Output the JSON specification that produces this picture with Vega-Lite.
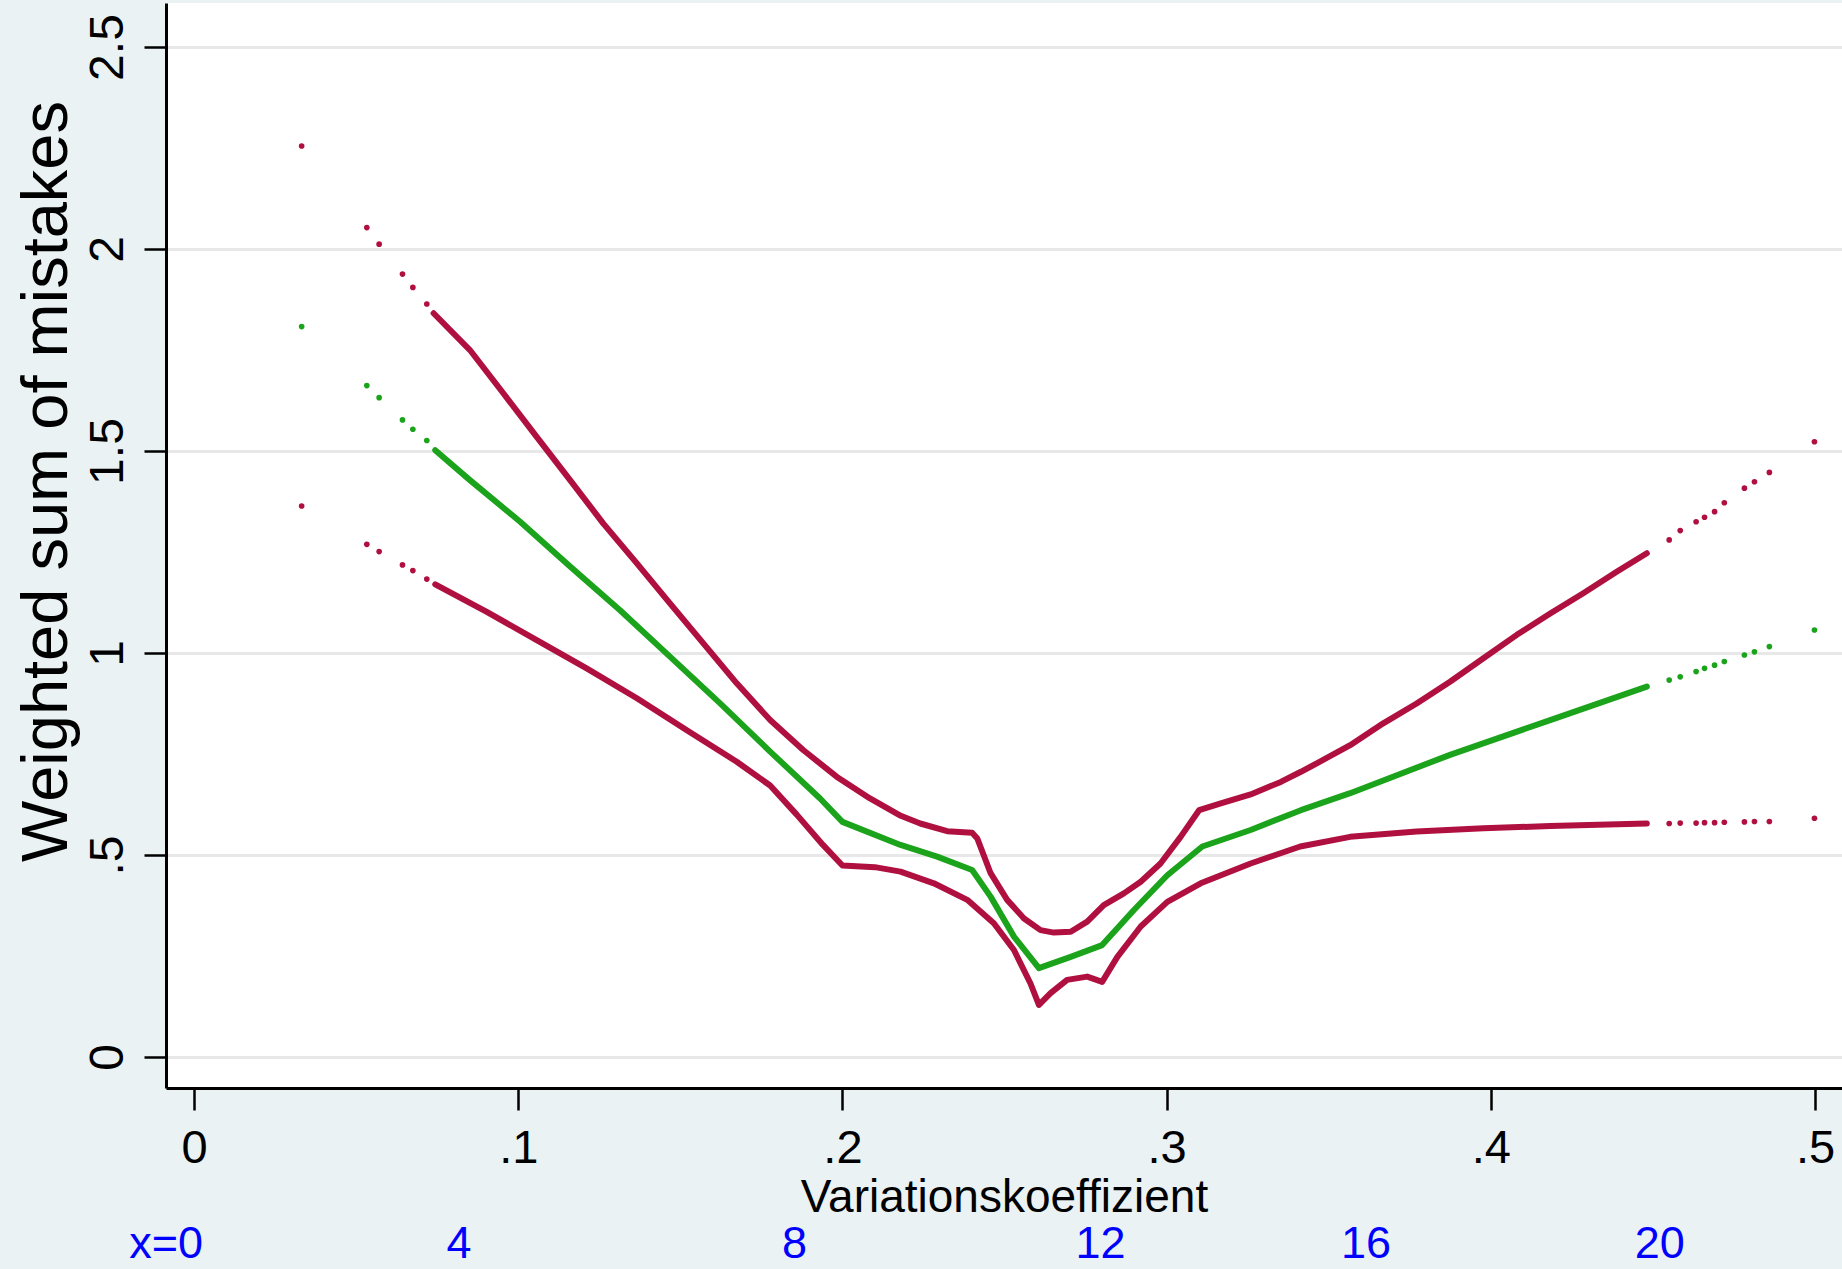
{
  "$schema": "https://vega.github.io/schema/vega-lite/v6.json",
  "width": 1676,
  "height": 1085,
  "autosize": {"type": "none"},
  "padding": {"left": 166, "top": 3, "right": 0, "bottom": 181},
  "background": "#EAF2F3",
  "config": {"view": {"fill": "white", "stroke": null}, "font": "Liberation Sans"},
  "datasets": {
    "pts": [
      {"s": "upper", "d": "dot", "x": 0.0332, "y": 2.255},
      {"s": "upper", "d": "dot", "x": 0.0533, "y": 2.053},
      {"s": "upper", "d": "dot", "x": 0.0571, "y": 2.012},
      {"s": "upper", "d": "dot", "x": 0.0643, "y": 1.938},
      {"s": "upper", "d": "dot", "x": 0.0675, "y": 1.905},
      {"s": "upper", "d": "dot", "x": 0.0718, "y": 1.864},
      {"s": "mean", "d": "dot", "x": 0.0332, "y": 1.808},
      {"s": "mean", "d": "dot", "x": 0.0533, "y": 1.662},
      {"s": "mean", "d": "dot", "x": 0.0571, "y": 1.632},
      {"s": "mean", "d": "dot", "x": 0.0643, "y": 1.577},
      {"s": "mean", "d": "dot", "x": 0.0675, "y": 1.554},
      {"s": "mean", "d": "dot", "x": 0.0718, "y": 1.526},
      {"s": "lower", "d": "dot", "x": 0.0332, "y": 1.364},
      {"s": "lower", "d": "dot", "x": 0.0533, "y": 1.269},
      {"s": "lower", "d": "dot", "x": 0.0571, "y": 1.251},
      {"s": "lower", "d": "dot", "x": 0.0643, "y": 1.218},
      {"s": "lower", "d": "dot", "x": 0.0675, "y": 1.204},
      {"s": "lower", "d": "dot", "x": 0.0718, "y": 1.183},
      {"s": "upper", "d": "dot", "x": 0.455, "y": 1.280},
      {"s": "upper", "d": "dot", "x": 0.4584, "y": 1.303},
      {"s": "upper", "d": "dot", "x": 0.4633, "y": 1.325},
      {"s": "upper", "d": "dot", "x": 0.4659, "y": 1.336},
      {"s": "upper", "d": "dot", "x": 0.469, "y": 1.350},
      {"s": "upper", "d": "dot", "x": 0.472, "y": 1.372},
      {"s": "upper", "d": "dot", "x": 0.4782, "y": 1.408},
      {"s": "upper", "d": "dot", "x": 0.4813, "y": 1.424},
      {"s": "upper", "d": "dot", "x": 0.4859, "y": 1.447},
      {"s": "upper", "d": "dot", "x": 0.4998, "y": 1.523},
      {"s": "mean", "d": "dot", "x": 0.455, "y": 0.933},
      {"s": "mean", "d": "dot", "x": 0.4584, "y": 0.941},
      {"s": "mean", "d": "dot", "x": 0.4633, "y": 0.954},
      {"s": "mean", "d": "dot", "x": 0.4659, "y": 0.962},
      {"s": "mean", "d": "dot", "x": 0.469, "y": 0.970},
      {"s": "mean", "d": "dot", "x": 0.472, "y": 0.979},
      {"s": "mean", "d": "dot", "x": 0.4782, "y": 0.995},
      {"s": "mean", "d": "dot", "x": 0.4813, "y": 1.003},
      {"s": "mean", "d": "dot", "x": 0.4859, "y": 1.016},
      {"s": "mean", "d": "dot", "x": 0.4998, "y": 1.057},
      {"s": "lower", "d": "dot", "x": 0.455, "y": 0.578},
      {"s": "lower", "d": "dot", "x": 0.4584, "y": 0.579},
      {"s": "lower", "d": "dot", "x": 0.4633, "y": 0.579},
      {"s": "lower", "d": "dot", "x": 0.4659, "y": 0.580},
      {"s": "lower", "d": "dot", "x": 0.469, "y": 0.580},
      {"s": "lower", "d": "dot", "x": 0.472, "y": 0.581},
      {"s": "lower", "d": "dot", "x": 0.4782, "y": 0.582},
      {"s": "lower", "d": "dot", "x": 0.4813, "y": 0.583},
      {"s": "lower", "d": "dot", "x": 0.4859, "y": 0.583},
      {"s": "lower", "d": "dot", "x": 0.4998, "y": 0.591},

      {"s": "upper", "d": "line", "x": 0.0739, "y": 1.841},
      {"s": "upper", "d": "line", "x": 0.0851, "y": 1.750},
      {"s": "upper", "d": "line", "x": 0.0954, "y": 1.643},
      {"s": "upper", "d": "line", "x": 0.1057, "y": 1.535},
      {"s": "upper", "d": "line", "x": 0.1160, "y": 1.428},
      {"s": "upper", "d": "line", "x": 0.1262, "y": 1.321},
      {"s": "upper", "d": "line", "x": 0.1366, "y": 1.222},
      {"s": "upper", "d": "line", "x": 0.1468, "y": 1.123},
      {"s": "upper", "d": "line", "x": 0.1571, "y": 1.024},
      {"s": "upper", "d": "line", "x": 0.1674, "y": 0.925},
      {"s": "upper", "d": "line", "x": 0.1777, "y": 0.834},
      {"s": "upper", "d": "line", "x": 0.1879, "y": 0.760},
      {"s": "upper", "d": "line", "x": 0.1982, "y": 0.694},
      {"s": "upper", "d": "line", "x": 0.2085, "y": 0.640},
      {"s": "upper", "d": "line", "x": 0.2180, "y": 0.597},
      {"s": "upper", "d": "line", "x": 0.2240, "y": 0.578},
      {"s": "upper", "d": "line", "x": 0.2323, "y": 0.559},
      {"s": "upper", "d": "line", "x": 0.2400, "y": 0.555},
      {"s": "upper", "d": "line", "x": 0.2416, "y": 0.541},
      {"s": "upper", "d": "line", "x": 0.2457, "y": 0.455},
      {"s": "upper", "d": "line", "x": 0.2508, "y": 0.389},
      {"s": "upper", "d": "line", "x": 0.2560, "y": 0.343},
      {"s": "upper", "d": "line", "x": 0.2611, "y": 0.314},
      {"s": "upper", "d": "line", "x": 0.2652, "y": 0.308},
      {"s": "upper", "d": "line", "x": 0.2704, "y": 0.310},
      {"s": "upper", "d": "line", "x": 0.2755, "y": 0.335},
      {"s": "upper", "d": "line", "x": 0.2806, "y": 0.376},
      {"s": "upper", "d": "line", "x": 0.2868, "y": 0.405},
      {"s": "upper", "d": "line", "x": 0.2920, "y": 0.434},
      {"s": "upper", "d": "line", "x": 0.2981, "y": 0.479},
      {"s": "upper", "d": "line", "x": 0.3043, "y": 0.545},
      {"s": "upper", "d": "line", "x": 0.3100, "y": 0.611},
      {"s": "upper", "d": "line", "x": 0.3167, "y": 0.628},
      {"s": "upper", "d": "line", "x": 0.3259, "y": 0.650},
      {"s": "upper", "d": "line", "x": 0.3352, "y": 0.681},
      {"s": "upper", "d": "line", "x": 0.3414, "y": 0.706},
      {"s": "upper", "d": "line", "x": 0.3463, "y": 0.727},
      {"s": "upper", "d": "line", "x": 0.3566, "y": 0.772},
      {"s": "upper", "d": "line", "x": 0.3668, "y": 0.826},
      {"s": "upper", "d": "line", "x": 0.3771, "y": 0.875},
      {"s": "upper", "d": "line", "x": 0.3874, "y": 0.929},
      {"s": "upper", "d": "line", "x": 0.3977, "y": 0.987},
      {"s": "upper", "d": "line", "x": 0.4080, "y": 1.045},
      {"s": "upper", "d": "line", "x": 0.4183, "y": 1.098},
      {"s": "upper", "d": "line", "x": 0.4285, "y": 1.148},
      {"s": "upper", "d": "line", "x": 0.4388, "y": 1.201},
      {"s": "upper", "d": "line", "x": 0.4481, "y": 1.247},

      {"s": "mean", "d": "line", "x": 0.0744, "y": 1.502},
      {"s": "mean", "d": "line", "x": 0.0851, "y": 1.428},
      {"s": "mean", "d": "line", "x": 0.1006, "y": 1.325},
      {"s": "mean", "d": "line", "x": 0.1160, "y": 1.214},
      {"s": "mean", "d": "line", "x": 0.1314, "y": 1.106},
      {"s": "mean", "d": "line", "x": 0.1468, "y": 0.991},
      {"s": "mean", "d": "line", "x": 0.1622, "y": 0.876},
      {"s": "mean", "d": "line", "x": 0.1777, "y": 0.756},
      {"s": "mean", "d": "line", "x": 0.1931, "y": 0.640},
      {"s": "mean", "d": "line", "x": 0.2000, "y": 0.582},
      {"s": "mean", "d": "line", "x": 0.2179, "y": 0.525},
      {"s": "mean", "d": "line", "x": 0.2292, "y": 0.496},
      {"s": "mean", "d": "line", "x": 0.2400, "y": 0.463},
      {"s": "mean", "d": "line", "x": 0.2457, "y": 0.397},
      {"s": "mean", "d": "line", "x": 0.2529, "y": 0.298},
      {"s": "mean", "d": "line", "x": 0.2606, "y": 0.220},
      {"s": "mean", "d": "line", "x": 0.2704, "y": 0.248},
      {"s": "mean", "d": "line", "x": 0.2801, "y": 0.277},
      {"s": "mean", "d": "line", "x": 0.2899, "y": 0.364},
      {"s": "mean", "d": "line", "x": 0.3002, "y": 0.450},
      {"s": "mean", "d": "line", "x": 0.3110, "y": 0.521},
      {"s": "mean", "d": "line", "x": 0.3259, "y": 0.562},
      {"s": "mean", "d": "line", "x": 0.3414, "y": 0.611},
      {"s": "mean", "d": "line", "x": 0.3566, "y": 0.653},
      {"s": "mean", "d": "line", "x": 0.3874, "y": 0.748},
      {"s": "mean", "d": "line", "x": 0.4183, "y": 0.834},
      {"s": "mean", "d": "line", "x": 0.4481, "y": 0.917},

      {"s": "lower", "d": "line", "x": 0.0744, "y": 1.170},
      {"s": "lower", "d": "line", "x": 0.0903, "y": 1.102},
      {"s": "lower", "d": "line", "x": 0.1057, "y": 1.032},
      {"s": "lower", "d": "line", "x": 0.1211, "y": 0.962},
      {"s": "lower", "d": "line", "x": 0.1366, "y": 0.888},
      {"s": "lower", "d": "line", "x": 0.1520, "y": 0.809},
      {"s": "lower", "d": "line", "x": 0.1674, "y": 0.731},
      {"s": "lower", "d": "line", "x": 0.1777, "y": 0.672},
      {"s": "lower", "d": "line", "x": 0.1859, "y": 0.600},
      {"s": "lower", "d": "line", "x": 0.1940, "y": 0.525},
      {"s": "lower", "d": "line", "x": 0.2000, "y": 0.474},
      {"s": "lower", "d": "line", "x": 0.2100, "y": 0.470},
      {"s": "lower", "d": "line", "x": 0.2179, "y": 0.459},
      {"s": "lower", "d": "line", "x": 0.2282, "y": 0.430},
      {"s": "lower", "d": "line", "x": 0.2385, "y": 0.389},
      {"s": "lower", "d": "line", "x": 0.2467, "y": 0.331},
      {"s": "lower", "d": "line", "x": 0.2529, "y": 0.265},
      {"s": "lower", "d": "line", "x": 0.2580, "y": 0.182},
      {"s": "lower", "d": "line", "x": 0.2606, "y": 0.129},
      {"s": "lower", "d": "line", "x": 0.2642, "y": 0.158},
      {"s": "lower", "d": "line", "x": 0.2693, "y": 0.191},
      {"s": "lower", "d": "line", "x": 0.2755, "y": 0.199},
      {"s": "lower", "d": "line", "x": 0.2801, "y": 0.186},
      {"s": "lower", "d": "line", "x": 0.2848, "y": 0.248},
      {"s": "lower", "d": "line", "x": 0.2920, "y": 0.323},
      {"s": "lower", "d": "line", "x": 0.3002, "y": 0.384},
      {"s": "lower", "d": "line", "x": 0.3105, "y": 0.430},
      {"s": "lower", "d": "line", "x": 0.3259, "y": 0.479},
      {"s": "lower", "d": "line", "x": 0.3412, "y": 0.521},
      {"s": "lower", "d": "line", "x": 0.3566, "y": 0.545},
      {"s": "lower", "d": "line", "x": 0.3771, "y": 0.558},
      {"s": "lower", "d": "line", "x": 0.3977, "y": 0.566},
      {"s": "lower", "d": "line", "x": 0.4183, "y": 0.572},
      {"s": "lower", "d": "line", "x": 0.4481, "y": 0.578}
    ],
    "labs": [
      {"lab": "x=0", "xv": -0.0086},
      {"lab": "4", "xv": 0.0817},
      {"lab": "8", "xv": 0.1852},
      {"lab": "12", "xv": 0.2796},
      {"lab": "16", "xv": 0.3615},
      {"lab": "20", "xv": 0.4521}
    ]
  },
  "layer": [
    {
      "data": {"name": "pts"},
      "transform": [{"filter": "datum.d == 'line'"}],
      "mark": {"type": "line", "strokeWidth": 6, "strokeCap": "round", "strokeJoin": "round"},
      "encoding": {
        "x": {
          "field": "x", "type": "quantitative",
          "scale": {"domain": [-0.00864, 0.5083], "nice": false, "zero": false},
          "axis": {
            "values": [0, 0.1, 0.2, 0.3, 0.4, 0.5],
            "labelExpr": "replace(format(datum.value, '~g'), '0.', '.')",
            "labelFontSize": 47, "labelColor": "black", "labelPadding": 15,
            "labelFlush": false, "labelOverlap": false,
            "tickSize": 22, "tickWidth": 2.5, "tickColor": "black",
            "domainColor": "black", "domainWidth": 3, "grid": false,
            "title": "Variationskoeffizient", "titleFontSize": 46,
            "titleFontWeight": "normal", "titleColor": "black", "titlePadding": 4
          }
        },
        "y": {
          "field": "y", "type": "quantitative",
          "scale": {"domain": [-0.0767, 2.609], "nice": false, "zero": false},
          "axis": {
            "values": [0, 0.5, 1, 1.5, 2, 2.5],
            "labelExpr": "replace(format(datum.value, '~g'), '0.', '.')",
            "labelAngle": 270, "labelAlign": "center", "labelBaseline": "alphabetic",
            "labelFontSize": 48, "labelColor": "black", "labelPadding": 22,
            "labelFlush": false, "labelOverlap": false,
            "tickSize": 22, "tickWidth": 2.5, "tickColor": "black",
            "domainColor": "black", "domainWidth": 3,
            "grid": true, "gridColor": "#E8E8E8", "gridWidth": 3,
            "title": "Weighted sum of mistakes", "titleFontSize": 65,
            "titleFontWeight": "normal", "titleColor": "black",
            "titleAngle": 270, "titleAlign": "center", "titleBaseline": "alphabetic",
            "titleX": -100, "titleY": 478
          }
        },
        "color": {
          "field": "s", "type": "nominal",
          "scale": {"domain": ["upper", "mean", "lower"], "range": ["#B01040", "#1BA31B", "#B01040"]},
          "legend": null
        }
      }
    },
    {
      "data": {"name": "pts"},
      "transform": [{"filter": "datum.d == 'dot'"}],
      "mark": {"type": "point", "shape": "circle", "filled": true, "size": 32, "opacity": 1},
      "encoding": {
        "x": {"field": "x", "type": "quantitative"},
        "y": {"field": "y", "type": "quantitative"},
        "color": {"field": "s", "type": "nominal", "legend": null}
      }
    },
    {
      "data": {"name": "labs"},
      "mark": {"type": "text", "fontSize": 45, "color": "#0000FF", "align": "center", "baseline": "alphabetic"},
      "encoding": {
        "x": {"field": "xv", "type": "quantitative"},
        "y": {"datum": -0.497, "type": "quantitative"},
        "text": {"field": "lab"}
      }
    }
  ]
}
